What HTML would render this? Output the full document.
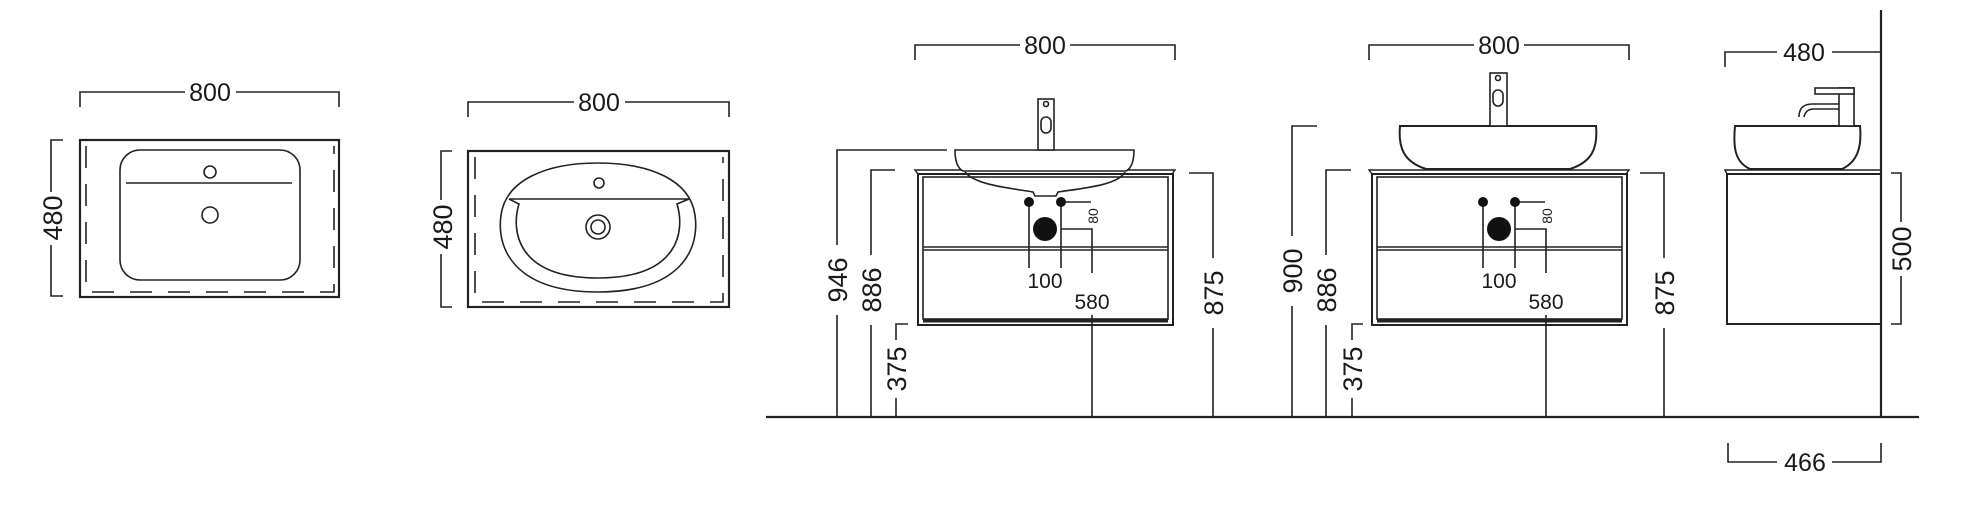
<!DOCTYPE html>
<html><head><meta charset="utf-8"><style>
html,body{margin:0;padding:0;background:#fff;}
svg{display:block;}
text{font-family:"Liberation Sans",sans-serif;fill:#1a1a1a;}
</style></head><body>
<svg width="1964" height="510" viewBox="0 0 1964 510" xmlns="http://www.w3.org/2000/svg">
<g stroke="#222" stroke-width="1.6" fill="none">
<!-- Plan 1 -->
<path d="M80 107V92H185M236 92H339V107"/>
<path d="M63 140H51V192M51 245V296H63"/>
<rect x="80" y="140" width="259" height="157" stroke-width="2.2"/>
<path d="M86 146V292H334V146" stroke-dasharray="22,16"/>
<rect x="120" y="150" width="180" height="130" rx="20"/>
<path d="M126 183H292"/>
<circle cx="210" cy="172" r="6"/>
<circle cx="210" cy="215" r="8"/>
<!-- Plan 2 -->
<path d="M468 117V102H574M625 102H729V117"/>
<path d="M452 151H441V200M441 254V307H452"/>
<rect x="468" y="151" width="261" height="156" stroke-width="2.2"/>
<path d="M475 157V302H723V157" stroke-dasharray="22,16"/>
<path d="M598 163C650 163 690 180 695 215C700 250 680 292 598 292C516 292 496 250 501 215C506 180 546 163 598 163Z"/>
<path d="M509 199H689L677 204C685 230 680 278 598 278C516 278 511 230 519 204Z"/>
<circle cx="599" cy="183" r="5"/>
<circle cx="598" cy="227" r="12"/>
<circle cx="598" cy="227" r="7"/>
<!-- Ground & wall -->
<path d="M766 417H1919" stroke-width="2.2"/>
<path d="M1881 10V417" stroke-width="2.2"/>
<!-- Cabinet 1 -->
<path d="M915 60V45H1020M1070 45H1175V60"/>
<path d="M947 150H837V245M837 315V417"/>
<path d="M895 170H871V255M871 325V417"/>
<path d="M908 324H896V340M896 398V417"/>
<path d="M1189 173H1213V258M1213 328V417"/>
<path d="M1061 229H1092V273M1092 315V417"/>
<path d="M1029 202V268M1061 202V268M1061 202H1091"/>
<path d="M915 170H1175L1172 174H918Z" stroke-width="1.4"/>
<rect x="918" y="174" width="255" height="151" stroke-width="2"/>
<rect x="923" y="177" width="245" height="142"/>
<path d="M923 247H1168M923 250H1168" stroke-width="1.4"/>
<path d="M923 321H1168" stroke-width="3"/>
<!-- semi-recessed basin -->
<path d="M955 150H1134C1134 160 1132 168 1126 171H963C957 168 955 160 955 150Z" fill="#fff"/>
<path d="M965 172C975 185 1010 188 1033 192L1035 196H1056L1058 192C1085 188 1118 185 1125 172"/>
<rect x="1038" y="99" width="16" height="51" fill="#fff"/>
<circle cx="1046" cy="104" r="2.5"/>
<rect x="1041" y="117" width="10" height="16" rx="5"/>
<!-- Cabinet 2 -->
<path d="M1369 60V45H1474M1524 45H1629V60"/>
<path d="M1317 126H1292V236M1292 306V417"/>
<path d="M1351 170H1326V255M1326 325V417"/>
<path d="M1363 324H1352V340M1352 398V417"/>
<path d="M1640 173H1664V258M1664 328V417"/>
<path d="M1515 229H1546V273M1546 315V417"/>
<path d="M1483 202V268M1515 202V268M1515 202H1545"/>
<path d="M1369 170H1629L1626 174H1372Z" stroke-width="1.4"/>
<rect x="1372" y="174" width="255" height="151" stroke-width="2"/>
<rect x="1377" y="177" width="245" height="142"/>
<path d="M1377 247H1622M1377 250H1622" stroke-width="1.4"/>
<path d="M1377 321H1622" stroke-width="3"/>
<path d="M1400 126H1596C1598 148 1592 162 1570 169H1426C1404 162 1398 148 1400 126Z" fill="#fff" stroke-width="2"/>
<rect x="1490" y="73" width="17" height="53" fill="#fff"/>
<circle cx="1498" cy="78" r="2.5"/>
<rect x="1493" y="90" width="10" height="16" rx="5"/>
<!-- Side view -->
<path d="M1725 67V52H1777M1832 52H1881"/>
<path d="M1891 173H1901V222M1901 276V324H1891"/>
<path d="M1728 443V462H1777M1832 462H1881V443"/>
<path d="M1725 170H1881V174H1727Z" stroke-width="1.4"/>
<rect x="1727" y="174" width="154" height="150" stroke-width="2"/>
<path d="M1735 126H1860C1862 148 1857 162 1842 169H1750C1735 162 1733 148 1735 126Z" fill="#fff" stroke-width="2"/>
<rect x="1839" y="88" width="15" height="38" fill="#fff"/>
<rect x="1815" y="88" width="39" height="6" fill="#fff"/>
<path d="M1839 104H1812C1804 104 1799 108 1799 117M1839 109H1814C1808 109 1805 112 1804 117"/>
</g>
<g fill="#111">
<circle cx="1029" cy="202" r="5"/><circle cx="1061" cy="202" r="5"/>
<ellipse cx="1045" cy="229" rx="12" ry="12"/>
<circle cx="1483" cy="202" r="5"/><circle cx="1515" cy="202" r="5"/>
<ellipse cx="1499" cy="229" rx="12" ry="12"/>
</g>
<g font-size="25" text-anchor="middle">
<text x="210" y="101">800</text>
<text x="599" y="111">800</text>
<text x="1045" y="54">800</text>
<text x="1499" y="54">800</text>
<text x="1804" y="61">480</text>
<text x="1805" y="471">466</text>
</g>
<g font-size="27" text-anchor="middle">
<text transform="translate(62,218) rotate(-90)">480</text>
<text transform="translate(452,227) rotate(-90)">480</text>
<text transform="translate(847,280) rotate(-90)">946</text>
<text transform="translate(881,290) rotate(-90)">886</text>
<text transform="translate(906,369) rotate(-90)">375</text>
<text transform="translate(1223,293) rotate(-90)">875</text>
<text transform="translate(1302,271) rotate(-90)">900</text>
<text transform="translate(1336,290) rotate(-90)">886</text>
<text transform="translate(1362,369) rotate(-90)">375</text>
<text transform="translate(1674,293) rotate(-90)">875</text>
<text transform="translate(1911,249) rotate(-90)">500</text>
</g>
<g font-size="21" text-anchor="middle">
<text x="1045" y="288">100</text>
<text x="1092" y="309">580</text>
<text x="1499" y="288">100</text>
<text x="1546" y="309">580</text>
</g>
<g font-size="14" text-anchor="middle">
<text transform="translate(1098,216) rotate(-90)">80</text>
<text transform="translate(1552,216) rotate(-90)">80</text>
</g>
</svg>
</body></html>
